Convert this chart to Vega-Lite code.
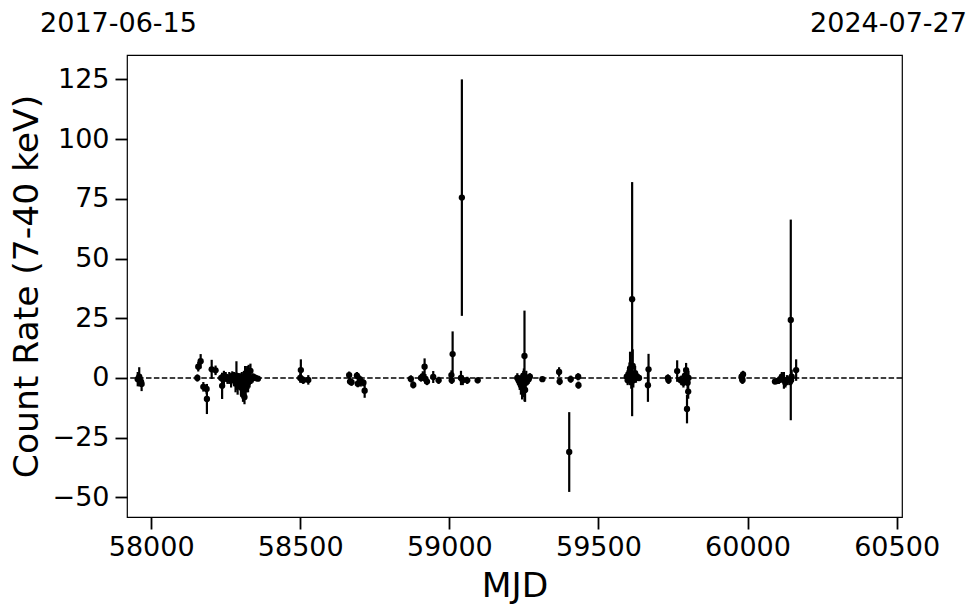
{
  "$schema": "https://vega.github.io/schema/vega-lite/v6.json",
  "width": 775,
  "height": 462,
  "autosize": {"type": "none"},
  "padding": {"left": 127, "top": 55, "right": 78, "bottom": 96},
  "background": "white",
  "config": {
    "view": {"stroke": "black", "strokeWidth": 1.2},
    "axis": {
      "domain": false, "grid": false, "tickColor": "black", "tickWidth": 1.8, "tickSize": 12,
      "labelFont": "DejaVu Sans", "labelFontSize": 27, "labelColor": "black",
      "titleFont": "DejaVu Sans", "titleFontSize": 34.5, "titleFontWeight": "normal", "titleColor": "black"
    }
  },
  "datasets": {
    "obs": [
      {"mjd": 57955, "rate": -0.5, "err": 3}, {"mjd": 57960, "rate": 0.5, "err": 4}, {"mjd": 57966, "rate": -1.5, "err": 2}, {"mjd": 57968, "rate": -2.5, "err": 3},
      {"mjd": 58155, "rate": 0, "err": 1.5}, {"mjd": 58158, "rate": 4.7, "err": 2}, {"mjd": 58166, "rate": 7, "err": 3}, {"mjd": 58175, "rate": -3.7, "err": 2},
      {"mjd": 58186, "rate": -4.6, "err": 2}, {"mjd": 58187, "rate": -8.8, "err": 6.3}, {"mjd": 58203, "rate": 3.6, "err": 4}, {"mjd": 58216, "rate": 3.2, "err": 2},
      {"mjd": 58235, "rate": 0, "err": 1.5}, {"mjd": 58238, "rate": -3.3, "err": 5.5},
      {"mjd": 58244, "rate": 0, "err": 3}, {"mjd": 58250, "rate": 0.5, "err": 2}, {"mjd": 58256, "rate": -0.5, "err": 2}, {"mjd": 58262, "rate": 0, "err": 2.5},
      {"mjd": 58268, "rate": -1, "err": 3}, {"mjd": 58272, "rate": 0.8, "err": 2}, {"mjd": 58278, "rate": -0.5, "err": 3}, {"mjd": 58283, "rate": -2, "err": 4},
      {"mjd": 58286, "rate": 1, "err": 6}, {"mjd": 58290, "rate": -3, "err": 4}, {"mjd": 58293, "rate": -1, "err": 3}, {"mjd": 58298, "rate": 0, "err": 2},
      {"mjd": 58301, "rate": -4, "err": 3}, {"mjd": 58304, "rate": -1.5, "err": 4}, {"mjd": 58308, "rate": -7, "err": 3}, {"mjd": 58311, "rate": -2, "err": 5},
      {"mjd": 58313, "rate": -8, "err": 3}, {"mjd": 58315, "rate": 1, "err": 4}, {"mjd": 58317, "rate": -3, "err": 6}, {"mjd": 58320, "rate": -1, "err": 5},
      {"mjd": 58322, "rate": 2, "err": 3}, {"mjd": 58325, "rate": -2, "err": 4}, {"mjd": 58327, "rate": 0.5, "err": 5}, {"mjd": 58330, "rate": -1, "err": 3},
      {"mjd": 58333, "rate": 3, "err": 3}, {"mjd": 58336, "rate": -0.5, "err": 2}, {"mjd": 58340, "rate": 0, "err": 2}, {"mjd": 58345, "rate": 0.3, "err": 1.5},
      {"mjd": 58350, "rate": 0, "err": 1}, {"mjd": 58358, "rate": -0.3, "err": 1},
      {"mjd": 58500, "rate": 0, "err": 2}, {"mjd": 58502, "rate": 3.3, "err": 4.5}, {"mjd": 58505, "rate": -0.5, "err": 1.5}, {"mjd": 58510, "rate": -1, "err": 1.5}, {"mjd": 58527, "rate": -0.8, "err": 2},
      {"mjd": 58664, "rate": 1.2, "err": 1.5}, {"mjd": 58667, "rate": -1.5, "err": 1.5}, {"mjd": 58672, "rate": -1.8, "err": 1.5}, {"mjd": 58690, "rate": 1, "err": 1.5},
      {"mjd": 58693, "rate": -2.4, "err": 1.5}, {"mjd": 58700, "rate": -0.5, "err": 1.5}, {"mjd": 58703, "rate": -1.6, "err": 2}, {"mjd": 58712, "rate": -2, "err": 1.5}, {"mjd": 58716, "rate": -5.3, "err": 3},
      {"mjd": 58871, "rate": -0.4, "err": 1.5}, {"mjd": 58879, "rate": -2.9, "err": 1.5}, {"mjd": 58905, "rate": 0, "err": 1.5}, {"mjd": 58911, "rate": 0.8, "err": 2},
      {"mjd": 58917, "rate": 4.7, "err": 3.5}, {"mjd": 58920, "rate": -0.4, "err": 2}, {"mjd": 58925, "rate": -1.5, "err": 1.5}, {"mjd": 58946, "rate": 0.4, "err": 2.5}, {"mjd": 58964, "rate": -1, "err": 1.5},
      {"mjd": 59007, "rate": 1.2, "err": 2}, {"mjd": 59008, "rate": -1, "err": 1.5}, {"mjd": 59011, "rate": 10, "err": 9.5}, {"mjd": 59039, "rate": 0, "err": 3},
      {"mjd": 59042, "rate": 75.5, "err": 49.5}, {"mjd": 59045, "rate": -1, "err": 2}, {"mjd": 59060, "rate": -1, "err": 1.5}, {"mjd": 59095, "rate": -1, "err": 1.2},
      {"mjd": 59228, "rate": 0, "err": 2}, {"mjd": 59232, "rate": -1, "err": 2}, {"mjd": 59236, "rate": -2, "err": 3}, {"mjd": 59240, "rate": -3, "err": 4},
      {"mjd": 59244, "rate": -4, "err": 5}, {"mjd": 59246, "rate": -1, "err": 3}, {"mjd": 59248, "rate": 1, "err": 2}, {"mjd": 59250, "rate": -2, "err": 6},
      {"mjd": 59252, "rate": 9.2, "err": 19}, {"mjd": 59254, "rate": -5, "err": 5}, {"mjd": 59256, "rate": -2, "err": 4}, {"mjd": 59258, "rate": 0, "err": 3},
      {"mjd": 59262, "rate": -1, "err": 2}, {"mjd": 59266, "rate": -0.5, "err": 2}, {"mjd": 59270, "rate": 0.5, "err": 1.5},
      {"mjd": 59312, "rate": -0.5, "err": 1}, {"mjd": 59368, "rate": 2.5, "err": 2}, {"mjd": 59370, "rate": -1.5, "err": 1.5}, {"mjd": 59402, "rate": -31, "err": 16.7},
      {"mjd": 59407, "rate": -0.5, "err": 1.5}, {"mjd": 59432, "rate": 0.5, "err": 1.5}, {"mjd": 59433, "rate": -3, "err": 1.5},
      {"mjd": 59595, "rate": 0.5, "err": 2}, {"mjd": 59598, "rate": -1, "err": 2}, {"mjd": 59601, "rate": 1.5, "err": 3}, {"mjd": 59604, "rate": 2.5, "err": 4},
      {"mjd": 59606, "rate": 4, "err": 7}, {"mjd": 59608, "rate": 0, "err": 3}, {"mjd": 59610, "rate": -1.5, "err": 3}, {"mjd": 59612, "rate": 1, "err": 4},
      {"mjd": 59613, "rate": 33, "err": 49}, {"mjd": 59615, "rate": 5, "err": 7}, {"mjd": 59617, "rate": -1, "err": 3}, {"mjd": 59620, "rate": 0.5, "err": 2},
      {"mjd": 59623, "rate": 2, "err": 3}, {"mjd": 59626, "rate": 0, "err": 2}, {"mjd": 59630, "rate": 0.5, "err": 1.5}, {"mjd": 59636, "rate": 0, "err": 1},
      {"mjd": 59666, "rate": -3, "err": 7}, {"mjd": 59668, "rate": 3.6, "err": 6.5}, {"mjd": 59733, "rate": 0, "err": 1.5}, {"mjd": 59735, "rate": -1, "err": 1.5},
      {"mjd": 59764, "rate": 2.9, "err": 4.5}, {"mjd": 59775, "rate": -0.8, "err": 1.5}, {"mjd": 59778, "rate": -1, "err": 2}, {"mjd": 59785, "rate": -2, "err": 2},
      {"mjd": 59790, "rate": 1, "err": 3}, {"mjd": 59794, "rate": 3.3, "err": 3}, {"mjd": 59795, "rate": -0.8, "err": 2}, {"mjd": 59797, "rate": -13, "err": 6},
      {"mjd": 59799, "rate": -2, "err": 4}, {"mjd": 59801, "rate": -5.7, "err": 3}, {"mjd": 59802, "rate": 0, "err": 3},
      {"mjd": 59980, "rate": 0.5, "err": 1.5}, {"mjd": 59982, "rate": -0.3, "err": 1.5}, {"mjd": 59983, "rate": -1, "err": 1.5}, {"mjd": 59985, "rate": 1.5, "err": 1.5},
      {"mjd": 60092, "rate": -1.5, "err": 1}, {"mjd": 60098, "rate": -1.3, "err": 1}, {"mjd": 60105, "rate": -1, "err": 1.5}, {"mjd": 60110, "rate": -0.5, "err": 1.5},
      {"mjd": 60115, "rate": 0.5, "err": 2}, {"mjd": 60122, "rate": -1, "err": 3.5}, {"mjd": 60127, "rate": -2, "err": 2}, {"mjd": 60132, "rate": -0.8, "err": 2},
      {"mjd": 60140, "rate": -1, "err": 2}, {"mjd": 60145, "rate": 24.3, "err": 42}, {"mjd": 60146, "rate": -1, "err": 2}, {"mjd": 60148, "rate": 0.5, "err": 3},
      {"mjd": 60163, "rate": 3.3, "err": 4.5}
    ],
    "ends": [{"mjd": 57919, "date": "2017-06-15"}, {"mjd": 60518, "date": "2024-07-27"}],
    "zero": [{"level": 0}]
  },
  "layer": [
    {
      "data": {"name": "zero"},
      "mark": {"type": "rule", "color": "black", "strokeWidth": 1.5, "strokeDash": [5.5, 2.4]},
      "encoding": {
        "y": {"field": "level", "type": "quantitative", "scale": {"domain": [-58.2, 135.2], "nice": false, "zero": false}}
      }
    },
    {
      "data": {"name": "obs"},
      "mark": {"type": "errorbar", "ticks": false, "color": "black", "thickness": 2.2},
      "encoding": {
        "x": {"field": "mjd", "type": "quantitative", "title": "MJD",
              "scale": {"domain": [57919, 60518], "nice": false, "zero": false},
              "axis": {"orient": "bottom", "values": [58000, 58500, 59000, 59500, 60000, 60500], "format": "d", "labelPadding": 5, "titlePadding": 9}},
        "y": {"field": "rate", "type": "quantitative", "title": "Count Rate (7-40 keV)",
              "axis": {"values": [-50, -25, 0, 25, 50, 75, 100, 125], "labelPadding": 6, "titlePadding": 8}},
        "yError": {"field": "err"}
      }
    },
    {
      "data": {"name": "obs"},
      "mark": {"type": "point", "filled": true, "color": "black", "opacity": 1, "size": 40},
      "encoding": {
        "x": {"field": "mjd", "type": "quantitative", "axis": null},
        "y": {"field": "rate", "type": "quantitative"}
      }
    },
    {
      "data": {"name": "ends"},
      "mark": {"type": "point", "opacity": 0},
      "encoding": {
        "x": {"field": "mjd", "type": "quantitative",
              "axis": {"orient": "top", "title": null, "values": [57919, 60518], "ticks": false, "tickSize": 0,
                       "labelExpr": "datum.value < 59000 ? '2017-06-15' : '2024-07-27'",
                       "labelOffset": {"condition": {"test": "datum.value < 59000", "value": -9}, "value": -14},
                       "labelPadding": 18, "labelFlush": false, "labelOverlap": false}}
      }
    }
  ],
  "resolve": {"axis": {"x": "independent"}}
}
